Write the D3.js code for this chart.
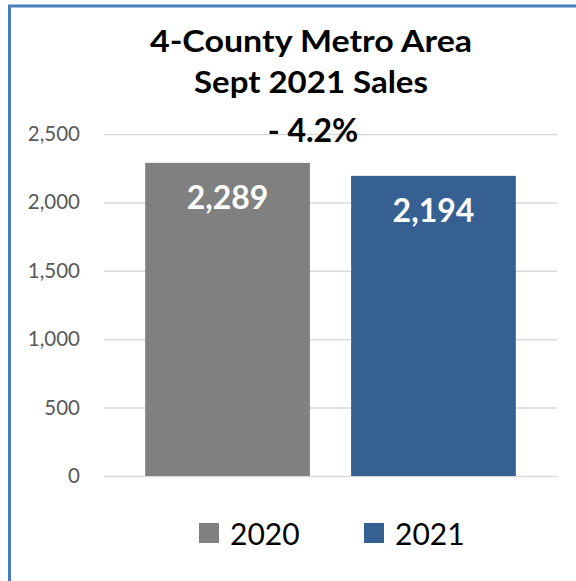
<!DOCTYPE html>
<html>
<head>
<meta charset="utf-8">
<script src="https://cdn.jsdelivr.net/npm/d3@7"></script>
<style>
  body { margin: 0; background: #ffffff; }
  svg { display: block; }
</style>
</head>
<body>
<svg id="chart" width="576" height="581"></svg>
<script>
// Monthly sales comparison, same month in two years
const titleLines = ["4-County Metro Area", "Sept 2021 Sales"];
const changeLabel = "- 4.2%";
const seriesNames = ["2020", "2021"];
const sales = [2289, 2194];
const yTicks = [0, 500, 1000, 1500, 2000, 2500];
const seriesColors = ["#808080", "#376092"];

const svg = d3.select("#chart");
const font = "Lato, 'Open Sans', sans-serif";

// Plot area
const plot = { left: 104, right: 557, top: 134, bottom: 476 };

const y = d3.scaleLinear()
  .domain([0, d3.max(yTicks)])
  .range([plot.bottom, plot.top]);

const x = d3.scaleBand()
  .domain(seriesNames)
  .range([plot.left, plot.right])
  .paddingInner(0.2)
  .paddingOuter(0.2);

const color = d3.scaleOrdinal().domain(seriesNames).range(seriesColors);

// Frame: blue edge on the top and left
svg.append("path")
  .attr("d", "M9.5,581 L9.5,6 L576,6")
  .attr("fill", "none")
  .attr("stroke", "#4a7ebb")
  .attr("stroke-width", 3);

// Value axis with gridlines
const yAxis = svg.append("g")
  .attr("transform", `translate(${plot.left},0)`)
  .call(d3.axisLeft(y)
    .tickValues(yTicks)
    .tickFormat(d3.format(","))
    .tickSize(-(plot.right - plot.left))
    .tickPadding(24));

yAxis.select(".domain").remove();
yAxis.selectAll(".tick line")
  .attr("stroke", "#d9d9d9")
  .attr("stroke-width", 1.5);
yAxis.selectAll(".tick text")
  .attr("fill", "#595959")
  .attr("font-family", font)
  .attr("font-size", 20.5);

// Bars
const data = seriesNames.map((name, i) => ({ name, value: sales[i] }));

svg.append("g")
  .selectAll("rect")
  .data(data)
  .join("rect")
  .attr("x", d => x(d.name))
  .attr("y", d => y(d.value))
  .attr("width", x.bandwidth())
  .attr("height", d => y(0) - y(d.value))
  .attr("fill", d => color(d.name));

// Value labels inside the bars
svg.append("g")
  .selectAll("text")
  .data(data)
  .join("text")
  .attr("x", d => x(d.name) + x.bandwidth() / 2)
  .attr("y", d => y(d.value) + 46)
  .attr("text-anchor", "middle")
  .attr("fill", "#ffffff")
  .attr("font-family", font)
  .attr("font-weight", 700)
  .attr("font-size", 32)
  .text(d => d3.format(",")(d.value));

// Two-line title
const titleX = 311;
const titleWidths = [322, 234];
svg.append("g")
  .selectAll("text")
  .data(titleLines)
  .join("text")
  .attr("x", titleX)
  .attr("y", (d, i) => 52 + i * 41)
  .attr("text-anchor", "middle")
  .attr("fill", "#000000")
  .attr("font-family", font)
  .attr("font-weight", 700)
  .attr("font-size", 31)
  .attr("textLength", (d, i) => titleWidths[i])
  .attr("lengthAdjust", "spacingAndGlyphs")
  .text(d => d);

// Year-over-year change
svg.append("text")
  .attr("x", 313)
  .attr("y", 142)
  .attr("text-anchor", "middle")
  .attr("fill", "#000000")
  .attr("font-family", font)
  .attr("font-weight", 700)
  .attr("font-size", 32)
  .text(changeLabel);

// Legend
const legendItems = [
  { name: seriesNames[0], x: 199 },
  { name: seriesNames[1], x: 364 }
];
const legend = svg.append("g")
  .selectAll("g")
  .data(legendItems)
  .join("g")
  .attr("transform", d => `translate(${d.x},523)`);

legend.append("rect")
  .attr("width", 20)
  .attr("height", 20)
  .attr("fill", d => color(d.name));

legend.append("text")
  .attr("x", 31)
  .attr("y", 22)
  .attr("fill", "#000000")
  .attr("font-family", font)
  .attr("font-size", 30)
  .text(d => d.name);
</script>
</body>
</html>
